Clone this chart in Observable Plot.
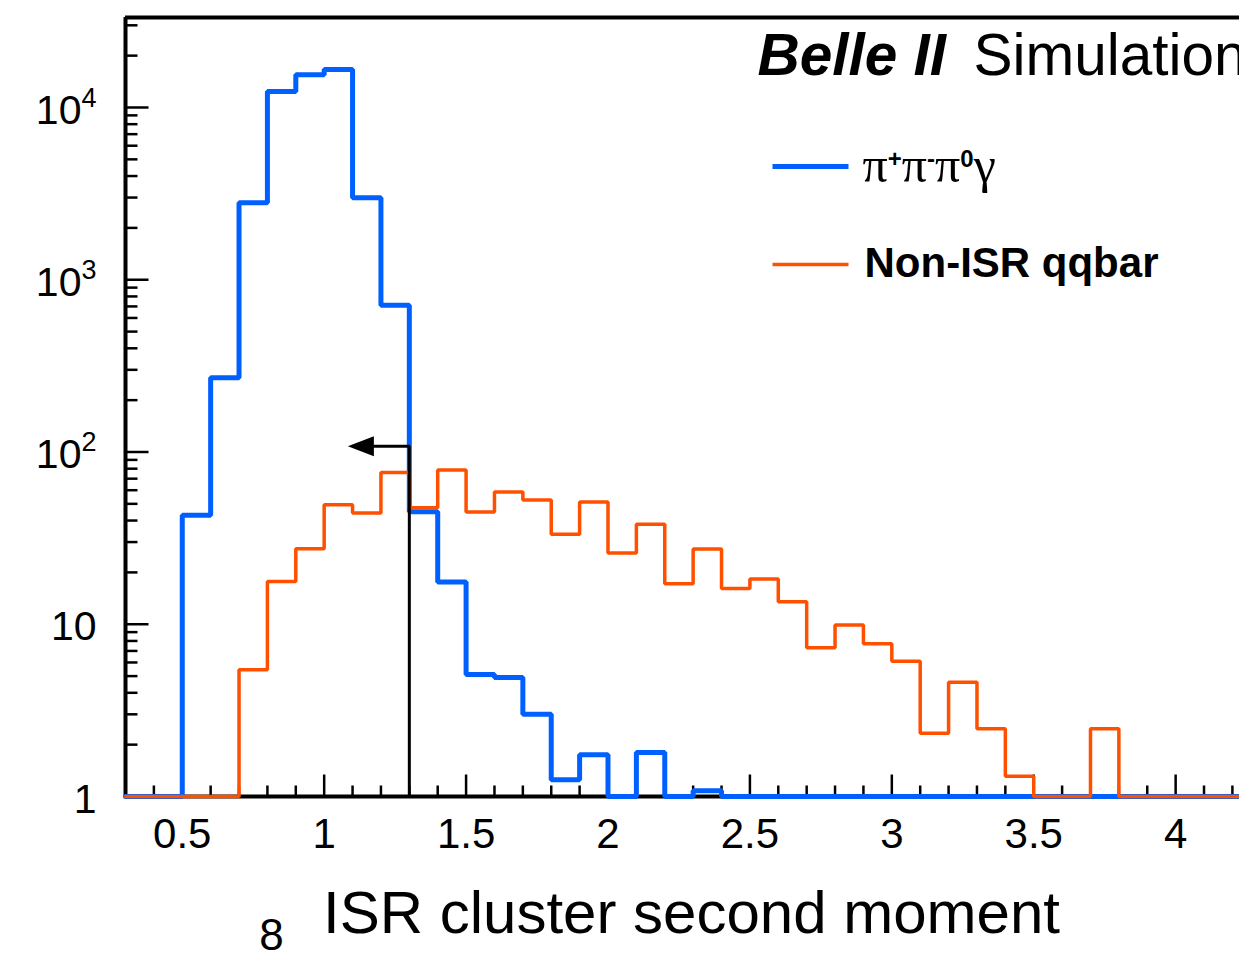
<!DOCTYPE html>
<html>
<head>
<meta charset="utf-8">
<script src="https://cdn.jsdelivr.net/npm/d3@7"></script>
<script src="https://cdn.jsdelivr.net/npm/@observablehq/plot@0.6"></script>
<style>
  html, body { margin: 0; padding: 0; background: #fff; overflow: hidden; }
  #chart { width: 1239px; height: 954px; overflow: hidden; }
</style>
</head>
<body>
<div id="chart"></div>
<script>
// ---------------- data ----------------
const binLow = [0.3,0.4,0.5,0.6,0.7,0.8,0.9,1.0,1.1,1.2,1.3,1.4,1.5,1.6,1.7,1.8,1.9,2.0,2.1,2.2,
                2.3,2.4,2.5,2.6,2.7,2.8,2.9,3.0,3.1,3.2,3.3,3.4,3.5,3.6,3.7,3.8,3.9,4.0,4.1,4.2];
const binWidth = 0.1;
// pi+ pi- pi0 gamma (signal)
const signalCounts = [0,0,43,270,2800,12400,15500,16600,2990,712,45,17.6,5.1,4.9,3.0,1.25,1.75,0,1.8,0,
                      1.08,0,0,0,0,0,0,0,0,0,0,0,0,0,0,0,0,0,0,0];
// Non-ISR qqbar (background)
const backgroundCounts = [0,0,0,0,5.45,17.7,27.4,49.4,44.3,76,47.5,78.7,44.9,58.6,52.7,33.3,51.3,25.9,38.1,17.2,
                          27.3,16.1,18.3,13.5,7.3,9.9,7.7,6.1,2.33,4.6,2.47,1.31,0,0,2.47,0,0,0,0,0];
const seriesNames = ["π^{+}π^{-}π^{0}γ", "Non-ISR qqbar"];

const xMajorTicks = [0.5,1,1.5,2,2.5,3,3.5,4];
const xTickLabels = ["0.5","1","1.5","2","2.5","3","3.5","4"];
const xMinorTicks = [0.4,0.6,0.7,0.8,0.9,1.1,1.2,1.3,1.4,1.6,1.7,1.8,1.9,2.1,2.2,2.3,2.4,
                     2.6,2.7,2.8,2.9,3.1,3.2,3.3,3.4,3.6,3.7,3.8,3.9,4.1,4.2];
const yMajorTicks = [1,10,100,1000,10000];
const yTickLabels = ["1","10","10^{2}","10^{3}","10^{4}"];
const yMinorTicks = [2,3,4,5,6,7,8,9,20,30,40,50,60,70,80,90,200,300,400,500,600,700,800,900,
                     2000,3000,4000,5000,6000,7000,8000,9000,20000,30000];

const cutValue = [1.3];        // selection cut
const cutArrowLevel = [108];   // height of the arrow
const cutArrowBase = [1.175];  // where the arrowhead starts

const xTitle = "ISR cluster second moment";
const pageNumber = "8";

const xDomain = [0.3, 4.225];
const yDomain = [1, 33300];

// ---------------- styles ----------------
const BLUE = "#0060ff";
const ORANGE = "#ff5000";
const SANS = "'Liberation Sans', Arial, Helvetica, sans-serif";

function stepPoints(counts) {
  const pts = binLow.map((x, i) => ({x, y: Math.max(counts[i], yDomain[0])}));
  const last = counts.length - 1;
  pts.push({x: binLow[last] + binWidth, y: Math.max(counts[last], yDomain[0])});
  return pts;
}
const signalPts = stepPoints(signalCounts);
const backgroundPts = stepPoints(backgroundCounts);

const cutPath = [
  {x: cutValue[0], y: yDomain[0]},
  {x: cutValue[0], y: cutArrowLevel[0]},
  {x: cutArrowBase[0], y: cutArrowLevel[0]}
];

const tickUp = len => ({draw(ctx) { ctx.moveTo(0, 0); ctx.lineTo(0, -len); }});
const tickRight = len => ({draw(ctx) { ctx.moveTo(0, 0); ctx.lineTo(len, 0); }});
const hLine = len => ({draw(ctx) { ctx.moveTo(-len / 2, 0); ctx.lineTo(len / 2, 0); }});
const arrowHead = {draw(ctx) { ctx.moveTo(0, -10); ctx.lineTo(-26, 0); ctx.lineTo(0, 10); ctx.closePath(); }};

const plot = Plot.plot({
  width: 1239,
  height: 954,
  marginTop: 17,
  marginLeft: 125,
  marginRight: 0,
  marginBottom: 158,
  x: {type: "linear", domain: xDomain, axis: null},
  y: {type: "log", domain: yDomain, axis: null},
  style: {fontFamily: SANS, background: "white", color: "black"},
  marks: [
    // frame
    Plot.ruleX([xDomain[0]], {stroke: "black", strokeWidth: 4}),
    Plot.ruleY([yDomain[1]], {stroke: "black", strokeWidth: 4}),
    Plot.ruleY([yDomain[0]], {stroke: "black", strokeWidth: 4}),
    // ticks
    Plot.dot(xMajorTicks, {x: d => d, y: () => yDomain[0], symbol: tickUp(22), stroke: "black", strokeWidth: 2.5, fill: "none"}),
    Plot.dot(xMinorTicks, {x: d => d, y: () => yDomain[0], symbol: tickUp(11), stroke: "black", strokeWidth: 2.5, fill: "none"}),
    Plot.dot(yMajorTicks.slice(1), {x: () => xDomain[0], y: d => d, symbol: tickRight(23), stroke: "black", strokeWidth: 2.5, fill: "none"}),
    Plot.dot(yMinorTicks, {x: () => xDomain[0], y: d => d, symbol: tickRight(12), stroke: "black", strokeWidth: 2.5, fill: "none"}),
    // histograms
    Plot.line(signalPts, {x: "x", y: "y", curve: "step-after", stroke: BLUE, strokeWidth: 5, strokeLinejoin: "miter"}),
    Plot.line(backgroundPts, {x: "x", y: "y", curve: "step-after", stroke: ORANGE, strokeWidth: 3.5, strokeLinejoin: "miter"}),
    // cut arrow
    Plot.line(cutPath, {x: "x", y: "y", stroke: "black", strokeWidth: 3, strokeLinejoin: "miter"}),
    Plot.dot([{x: cutArrowBase[0], y: cutArrowLevel[0]}], {x: "x", y: "y", symbol: arrowHead, fill: "black", stroke: "none"}),
    // tick labels
    Plot.text(xMajorTicks, {x: d => d, y: () => yDomain[0], text: (d, i) => xTickLabels[i], lineAnchor: "middle", dy: 38, fontSize: 42, fill: "black"}),
    Plot.text(yMajorTicks, {x: () => xDomain[0], y: d => d, text: (d, i) => yTickLabels[i], textAnchor: "end", lineAnchor: "middle", dx: -29, dy: 3, fontSize: 41, fill: "black"}),
    // axis title
    Plot.text([xTitle], {frameAnchor: "bottom", text: d => d, lineAnchor: "middle", dx: 9, dy: 117, fontSize: 60, fill: "black"}),
    // page number
    Plot.text([pageNumber], {frameAnchor: "bottom-left", text: d => d, textAnchor: "middle", lineAnchor: "middle", dx: 146, dy: 139, fontSize: 44, fill: "black"}),
    // Belle II Simulation
    Plot.text(["Belle II"], {frameAnchor: "top-left", text: d => d, textAnchor: "start", lineAnchor: "middle", dx: 632, dy: 39, fontSize: 58.5, fontWeight: "bold", fontStyle: "italic", fill: "black"}),
    Plot.text(["Simulation"], {frameAnchor: "top-left", text: d => d, textAnchor: "start", lineAnchor: "middle", dx: 848, dy: 39, fontSize: 58.5, fill: "black"}),
    // legend
    Plot.dot([0], {frameAnchor: "top-left", dx: 685, dy: 149, symbol: hLine(76), stroke: BLUE, strokeWidth: 5, fill: "none"}),
    Plot.dot([0], {frameAnchor: "top-left", dx: 685, dy: 247, symbol: hLine(76), stroke: ORANGE, strokeWidth: 3.5, fill: "none"}),
    Plot.text([seriesNames[0]], {frameAnchor: "top-left", text: d => d, textAnchor: "start", lineAnchor: "middle", dx: 737, dy: 148, fontSize: 50, fontFamily: "'Liberation Serif', 'Times New Roman', serif", fill: "black"}),
    Plot.text([seriesNames[1]], {frameAnchor: "top-left", text: d => d, textAnchor: "start", lineAnchor: "middle", dx: 739, dy: 246, fontSize: 42, fontWeight: "bold", fill: "black"})
  ]
});

// turn "^{...}" markup into superscript tspans
d3.select(plot).selectAll("text").each(function () {
  const t = this.textContent;
  if (!t.includes("^{")) return;
  const legend = t.includes("π");
  const supSize = legend ? 24 : 27;
  const raise = legend ? 15 : 17;
  const parts = t.split(/\^\{([^}]*)\}/);
  const el = d3.select(this);
  el.text(null);
  let raised = false;
  parts.forEach((p, i) => {
    if (p === "") return;
    const isSup = i % 2 === 1;
    const ts = el.append("tspan").text(p);
    if (isSup) {
      ts.attr("font-size", supSize).attr("dy", raised ? 0 : -raise);
      ts.attr("font-family", SANS);
      if (legend) ts.attr("font-weight", "bold");
      raised = true;
    } else if (raised) {
      ts.attr("dy", raise);
      raised = false;
    }
  });
});

document.getElementById("chart").appendChild(plot);
</script>
</body>
</html>
